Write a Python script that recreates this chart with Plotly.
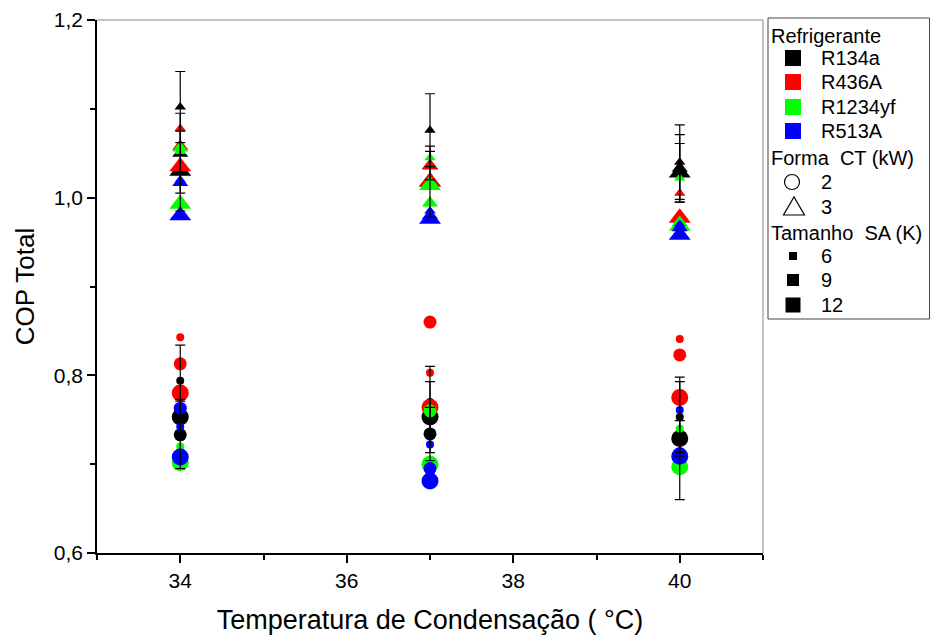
import plotly.graph_objects as go

# ---- data ----
temps = [34, 37, 40]
refrigerants = ["R134a", "R436A", "R1234yf", "R513A"]
ref_colors = ["#000000", "#ff0000", "#00ff00", "#0000ff"]
ct_levels = [2, 3]           # Forma: circle / triangle
ct_symbols = ["circle", "triangle-up"]
sa_levels = [6, 9, 12]       # Tamanho

# values order for each temperature: CT2 SA6, SA9, SA12, CT3 SA6, SA9, SA12
cop_R134a = [0.794, 0.733, 0.753, 1.102, 1.050, 1.030,
             0.770, 0.734, 0.753, 1.076, 1.036, 1.018,
             0.753, 0.729, 0.729, 1.040, 1.033, 1.028]
cop_R436A = [0.843, 0.813, 0.780, 1.078, 1.058, 1.035,
             0.803, 0.860, 0.764, 1.038, 1.036, 1.018,
             0.841, 0.823, 0.775, 1.005, 0.980, 0.977]
cop_R1234yf = [0.720, 0.710, 0.702, 1.052, 1.056, 0.993,
               0.757, 0.760, 0.700, 1.045, 0.994, 1.014,
               0.740, 0.700, 0.697, 1.022, 0.972, 0.968]
cop_R513A = [0.742, 0.763, 0.708, 1.020, 1.017, 0.980,
             0.722, 0.695, 0.681, 0.985, 0.980, 0.976,
             0.761, 0.712, 0.709, 0.970, 0.966, 0.958]
err_R134a = [0.040, 0.038, 0.020, 0.040, 0.045, 0.045,
             0.040, 0.030, 0.040, 0.041, 0.016, 0.040,
             0.040, 0.069, 0.020, 0.042, 0.038, 0.033]

series = [cop_R134a, cop_R436A, cop_R1234yf, cop_R513A]

legend_titles = ["Refrigerante", "Forma  CT (kW)", "Tamanho  SA (K)"]

circle_sizes = [8, 13, 17]
triangle_sizes = [10, 14, 19]
legend_sa_sizes = [8, 12, 15]

FONT = "Arial, Liberation Sans, sans-serif"

# plot area in pixels (layout)
W, H = 931, 639
L, R, T, B = 97, 168, 20, 86
PW, PH = W - L - R, H - T - B


def px_x(px):
    return (px - L) / PW


def px_y(py):
    return (H - B - py) / PH


fig = go.Figure()

# expand columns
x_col, ct_col, sa_col = [], [], []
for t in temps:
    for ct in ct_levels:
        for sa in sa_levels:
            x_col.append(t)
            ct_col.append(ct)
            sa_col.append(sa)

for ri, (name, vals) in enumerate(zip(refrigerants, series)):
    symbols = [ct_symbols[ct_levels.index(c)] for c in ct_col]
    sizes = [(circle_sizes if c == 2 else triangle_sizes)[sa_levels.index(s)]
             for c, s in zip(ct_col, sa_col)]
    fig.add_trace(go.Scatter(
        x=x_col, y=vals, mode="markers", showlegend=False, name=name,
        marker=dict(color=ref_colors[ri], symbol=symbols, size=sizes,
                    opacity=1, line=dict(width=0)),
    ))

# error bars (R134a) drawn on top
fig.add_trace(go.Scatter(
    x=x_col, y=cop_R134a, mode="markers", showlegend=False, hoverinfo="skip",
    marker=dict(size=1, color="rgba(0,0,0,0)"),
    error_y=dict(type="data", array=err_R134a, visible=True,
                 color="#000000", thickness=1.2, width=5),
))

# frame lines (top / right)
shapes = [
    dict(type="line", xref="paper", yref="paper", x0=0, x1=1, y0=1, y1=1,
         line=dict(color="#888888", width=1)),
    dict(type="line", xref="paper", yref="paper", x0=1, x1=1, y0=0, y1=1,
         line=dict(color="#888888", width=1)),
    # legend box
    dict(type="rect", xref="paper", yref="paper",
         x0=px_x(768), x1=px_x(929.5), y0=px_y(319), y1=px_y(18),
         line=dict(color="#444444", width=1), fillcolor="white", layer="below"),
]
annotations = []

LEG_FONT = dict(size=20, family=FONT, color="black")
MX, TX, GX = 793, 819, 769


def legend_text(text, x, y):
    annotations.append(dict(text=text, x=px_x(x), y=px_y(y), xref="paper", yref="paper",
                            xanchor="left", yanchor="middle", showarrow=False,
                            font=LEG_FONT))


legend_text(legend_titles[0], GX, 36)
for i, (name, col) in enumerate(zip(refrigerants, ref_colors)):
    y = [58, 82, 107, 131][i]
    shapes.append(dict(type="rect", xref="paper", yref="paper",
                       xsizemode="pixel", ysizemode="pixel",
                       xanchor=px_x(MX), yanchor=px_y(y),
                       x0=-8, x1=8, y0=-8, y1=8,
                       fillcolor=col, line=dict(width=0)))
    legend_text(name, TX, y)

legend_text(legend_titles[1], GX, 158)
# circle (CT = 2)
shapes.append(dict(type="circle", xref="paper", yref="paper",
                   xsizemode="pixel", ysizemode="pixel",
                   xanchor=px_x(792), yanchor=px_y(182),
                   x0=-7.5, x1=7.5, y0=-7.5, y1=7.5,
                   fillcolor="white", line=dict(color="black", width=1.2)))
legend_text(str(ct_levels[0]), TX, 182)
# triangle (CT = 3)
shapes.append(dict(type="path", xref="paper", yref="paper",
                   xsizemode="pixel", ysizemode="pixel",
                   xanchor=px_x(794), yanchor=px_y(207),
                   path="M -10.5 -8 L 10.5 -8 L 0 10 Z",
                   fillcolor="white", line=dict(color="black", width=1.2)))
legend_text(str(ct_levels[1]), TX, 207)

legend_text(legend_titles[2], GX, 233)
for i, sa in enumerate(sa_levels):
    y = [256, 280, 305][i]
    h = legend_sa_sizes[i] / 2
    shapes.append(dict(type="rect", xref="paper", yref="paper",
                       xsizemode="pixel", ysizemode="pixel",
                       xanchor=px_x(MX), yanchor=px_y(y),
                       x0=-h, x1=h, y0=-h, y1=h,
                       fillcolor="black", line=dict(width=0)))
    legend_text(str(sa), TX, y)

fig.update_layout(
    width=W, height=H,
    margin=dict(l=L, r=R, t=T, b=B, autoexpand=False),
    paper_bgcolor="white", plot_bgcolor="white",
    separators=",.",
    showlegend=False,
    font=dict(family=FONT, color="black"),
    shapes=shapes, annotations=annotations,
    xaxis=dict(
        range=[33, 41], tickvals=[34, 36, 38, 40], ticktext=["34", "36", "38", "40"],
        showgrid=False, zeroline=False, showline=True, linecolor="black", linewidth=1.5,
        ticks="outside", ticklen=8, tickwidth=1.5, tickcolor="black", automargin=False,
        minor=dict(tickvals=[33, 35, 37, 39, 41], ticks="outside", ticklen=5,
                   tickwidth=1.5, tickcolor="black"),
        tickfont=dict(size=21, family=FONT),
        title=dict(text="Temperatura de Condensação ( °C)", font=dict(size=27, family=FONT),
                   standoff=19),
    ),
    yaxis=dict(
        range=[0.6, 1.2], tickvals=[0.6, 0.8, 1.0, 1.2], tickformat=".1f",
        showgrid=False, zeroline=False, showline=True, linecolor="black", linewidth=1.5,
        ticks="outside", ticklen=8, tickwidth=1.5, tickcolor="black", automargin=False,
        minor=dict(tickvals=[0.7, 0.9, 1.1], ticks="outside", ticklen=5,
                   tickwidth=1.5, tickcolor="black"),
        tickfont=dict(size=21, family=FONT),
        title=dict(text="COP Total", font=dict(size=26, family=FONT), standoff=12),
    ),
)

fig.write_html("out.html")
